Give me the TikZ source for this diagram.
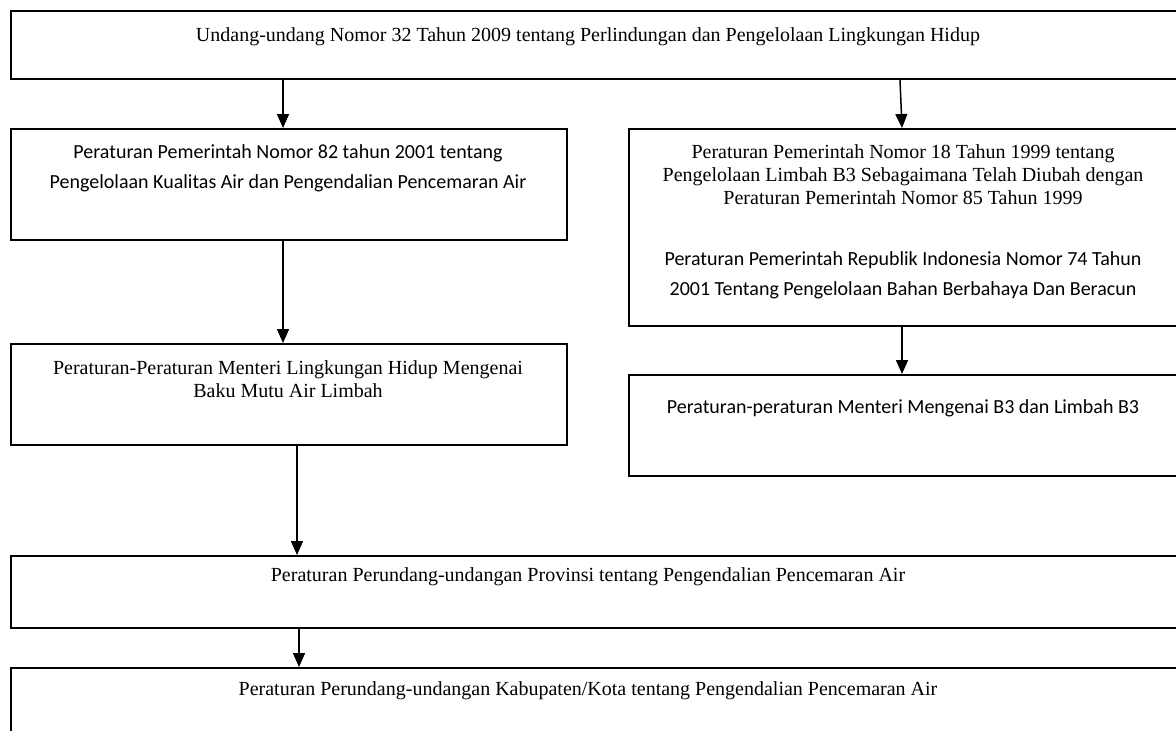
\documentclass[tikz,border=0pt]{standalone}
\usepackage{fontspec}
\setmainfont{Liberation Serif}
\newfontfamily\calibri{Carlito}
\usetikzlibrary{arrows.meta}
\begin{document}
\begin{tikzpicture}[x=1pt,y=-1pt,
  box/.style={draw,line width=1.8pt,anchor=north west,inner sep=0pt},
  serif/.style={font=\fontsize{20}{23}\selectfont,align=center,inner sep=0pt},
  sans/.style={font=\calibri\fontsize{20}{30}\selectfont,align=center,inner sep=0pt},
  arr/.style={line width=1.5pt,-{Triangle[width=12pt,length=14pt]}}]
\useasboundingbox (0,0) rectangle (1176,731);
\clip (0,0) rectangle (1176,731);
% boxes
\node[box,minimum width=1190pt,minimum height=68pt] (top) at (10,10) {};
\node[box,minimum width=556pt,minimum height=111pt] (pp82) at (10,128) {};
\node[box,minimum width=570pt,minimum height=197pt] (pp18) at (628,128) {};
\node[box,minimum width=556pt,minimum height=101pt] (lh) at (10,343) {};
\node[box,minimum width=570pt,minimum height=101pt] (b3) at (628,374) {};
\node[box,minimum width=1190pt,minimum height=72pt] (prov) at (10,555) {};
\node[box,minimum width=1190pt,minimum height=100pt] (kab) at (10,667) {};
% texts
\node[serif] (ttop) at (588,37) {Undang-undang Nomor 32 Tahun 2009 tentang Perlindungan dan Pengelolaan Lingkungan Hidup};
\node[sans] (tpp82) at (288,168) {Peraturan Pemerintah Nomor 82 tahun 2001 tentang\\Pengelolaan Kualitas Air dan Pengendalian Pencemaran Air};
\node[serif] (tpp18a) at (903,175) {Peraturan Pemerintah Nomor 18 Tahun 1999 tentang\\Pengelolaan Limbah B3 Sebagaimana Telah Diubah dengan\\Peraturan Pemerintah Nomor 85 Tahun 1999};
\node[sans] (tpp18b) at (903,275) {Peraturan Pemerintah Republik Indonesia Nomor 74 Tahun\\2001 Tentang Pengelolaan Bahan Berbahaya Dan Beracun};
\node[serif] (tlh) at (288,379) {Peraturan-Peraturan Menteri Lingkungan Hidup Mengenai\\Baku Mutu Air Limbah};
\node[sans] (tb3) at (903,408) {Peraturan-peraturan Menteri Mengenai B3 dan Limbah B3};
\node[serif] (tprov) at (588,577) {Peraturan Perundang-undangan Provinsi tentang Pengendalian Pencemaran Air};
\node[serif] (tkab) at (588,691) {Peraturan Perundang-undangan Kabupaten/Kota tentang Pengendalian Pencemaran Air};
% arrow x positions
\coordinate (xa) at (283,0);
\coordinate (xb1) at (900,0);
\coordinate (xb2) at (902,0);
\coordinate (xc) at (902,0);
\coordinate (xd) at (297,0);
\coordinate (xe) at (299,0);
\draw[arr] (top.south -| xa) -- (pp82.north -| xa);
\draw[arr] (top.south -| xb1) -- (pp18.north -| xb2);
\draw[arr] (pp82.south -| xa) -- (lh.north -| xa);
\draw[arr] (pp18.south -| xc) -- (b3.north -| xc);
\draw[arr] (lh.south -| xd) -- (prov.north -| xd);
\draw[arr] (prov.south -| xe) -- (kab.north -| xe);
\end{tikzpicture}
\end{document}
